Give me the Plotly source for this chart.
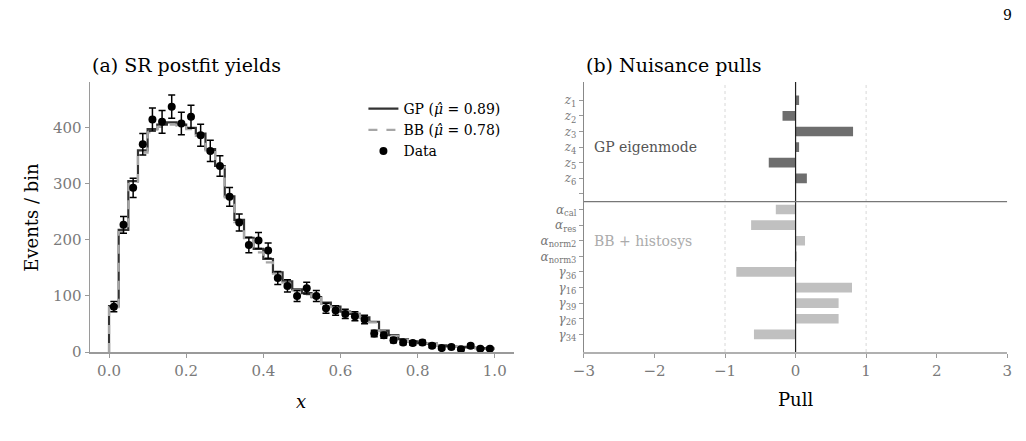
import numpy as np
import plotly.graph_objects as go

# ---------------- data ----------------
n_bins = 40
data_counts = [81, 227, 293, 371, 415, 411, 438, 408, 420, 387,
               359, 332, 277, 231, 191, 199, 181, 132, 118, 100,
               114, 100, 78, 74, 68, 64, 58, 33, 30, 21,
               17, 16, 17, 11, 7, 9, 5, 11, 6, 6]
gp_yields = [82, 218, 305, 360, 398, 406, 410, 406, 400, 390,
             362, 332, 278, 236, 204, 184, 166, 142, 126, 112,
             105, 98, 88, 81, 72, 68, 62, 54, 38, 30,
             23, 19, 16, 15, 12, 10, 9, 8, 7, 6]
bb_yields = [80, 214, 300, 356, 392, 402, 406, 404, 398, 386,
             360, 330, 276, 232, 200, 178, 160, 140, 124, 110,
             103, 96, 86, 80, 71, 67, 61, 53, 37, 29,
             22, 18, 16, 14, 12, 10, 9, 8, 7, 6]
gp_label = "GP (<i>μ̂</i> = 0.89)"
bb_label = "BB (<i>μ̂</i> = 0.78)"

pull_labels = ["<i>z</i><sub>1</sub>", "<i>z</i><sub>2</sub>", "<i>z</i><sub>3</sub>",
               "<i>z</i><sub>4</sub>", "<i>z</i><sub>5</sub>", "<i>z</i><sub>6</sub>",
               "",
               "<i>α</i><sub>cal</sub>", "<i>α</i><sub>res</sub>", "<i>α</i><sub>norm2</sub>",
               "<i>α</i><sub>norm3</sub>", "<i>γ</i><sub>36</sub>", "<i>γ</i><sub>16</sub>",
               "<i>γ</i><sub>39</sub>", "<i>γ</i><sub>26</sub>", "<i>γ</i><sub>34</sub>"]
gp_pulls = [0.05, -0.185, 0.815, 0.05, -0.38, 0.16]
bb_pulls = [-0.28, -0.63, 0.134, 0.015, -0.84, 0.80, 0.61, 0.61, -0.59]
x_ticks_left = [0.0, 0.2, 0.4, 0.6, 0.8, 1.0]
y_ticks_left = [0, 100, 200, 300, 400]
x_ticks_right = [-3, -2, -1, 0, 1, 2, 3]
x_ticktext_right = ["−3", "−2", "−1", "0", "1", "2", "3"]

# ---------------- derived ----------------
edges = np.linspace(0, 1, n_bins + 1)
centers = 0.5 * (edges[:-1] + edges[1:])
errs = np.sqrt(np.array(data_counts, dtype=float))

W, H = 1026, 441
SERIF = "DejaVu Serif"
TICKC = "#7a7a7a"
SPINE = "#9a9a9a"

fig = go.Figure()

step_x = [0.0] + list(edges)
fig.add_trace(go.Scatter(x=step_x, y=[0] + gp_yields + [gp_yields[-1]], mode="lines",
                         line=dict(shape="hv", color="#333333", width=2.2),
                         name=gp_label, xaxis="x", yaxis="y"))
fig.add_trace(go.Scatter(x=step_x, y=[0] + bb_yields + [bb_yields[-1]], mode="lines",
                         line=dict(shape="hv", color="#a6a6a6", width=2.2, dash="dash"),
                         name=bb_label, xaxis="x", yaxis="y"))
fig.add_trace(go.Scatter(x=centers, y=data_counts, mode="markers",
                         marker=dict(color="black", size=8),
                         error_y=dict(type="data", array=errs, color="black", thickness=1.5, width=3.5),
                         name="Data", xaxis="x", yaxis="y"))

gp_idx = list(range(6))
bb_idx = list(range(7, 16))
fig.add_trace(go.Bar(x=gp_pulls, y=gp_idx, orientation="h", width=0.62,
                     marker=dict(color="#6e6e6e", line=dict(width=0)),
                     showlegend=False, xaxis="x2", yaxis="y2"))
fig.add_trace(go.Bar(x=bb_pulls, y=bb_idx, orientation="h", width=0.62,
                     marker=dict(color="#c0c0c0", line=dict(width=0)),
                     showlegend=False, xaxis="x2", yaxis="y2"))

l1, r1 = 80 / W, 511 / W
l2, r2 = 582 / W, 1012 / W
top, bot = 82, 352

fig.update_layout(
    width=W, height=H,
    margin=dict(l=0, r=0, t=top, b=H - bot),
    paper_bgcolor="white", plot_bgcolor="white",
    font=dict(family=SERIF, color="black"),
    barmode="overlay",
    xaxis=dict(domain=[l1, r1], range=[-0.05, 1.05], tickvals=x_ticks_left,
               ticktext=[f"{v:.1f}" for v in x_ticks_left],
               showgrid=False, zeroline=False, showline=True, linecolor=SPINE, linewidth=1.5,
               ticks="outside", ticklen=4, tickcolor=SPINE, tickfont=dict(size=15, color=TICKC),
               anchor="y"),
    yaxis=dict(domain=[0, 1], range=[0, 482], tickvals=y_ticks_left,
               showgrid=False, zeroline=False, showline=True, linecolor=SPINE, linewidth=1.2,
               ticks="outside", ticklen=4, tickcolor=SPINE, tickfont=dict(size=15, color=TICKC),
               anchor="x"),
    xaxis2=dict(domain=[l2, r2], range=[-3, 3], tickvals=x_ticks_right, ticktext=x_ticktext_right,
                showgrid=False, zeroline=False, showline=True, linecolor="#b0b0b0", linewidth=2,
                ticks="outside", ticklen=4, tickcolor=SPINE, tickfont=dict(size=15, color=TICKC),
                anchor="y2"),
    yaxis2=dict(domain=[0, 1], range=[16.13, -1.17], tickvals=list(range(16)), ticktext=pull_labels,
                showgrid=False, zeroline=False, showline=True, linecolor="#888888", linewidth=1.2,
                ticks="outside", ticklen=4, tickcolor=SPINE, tickfont=dict(size=12, color="#777777"),
                anchor="x2"),
    legend=dict(x=358 / W, y=(bot - 93) / (bot - top), xanchor="left", yanchor="top",
                bgcolor="rgba(0,0,0,0)", font=dict(size=14, family=SERIF), itemwidth=30,
                tracegroupgap=0),
    showlegend=True,
)

shapes = [
    dict(type="line", xref="x2", yref="paper", x0=-1, x1=-1, y0=0, y1=1,
         line=dict(color="#d8d8d8", width=1, dash="dot")),
    dict(type="line", xref="x2", yref="paper", x0=1, x1=1, y0=0, y1=1,
         line=dict(color="#d8d8d8", width=1, dash="dot")),
    dict(type="line", xref="x2", yref="paper", x0=0, x1=0, y0=0, y1=1,
         line=dict(color="#222222", width=1.2)),
    dict(type="line", xref="x2", yref="y2", x0=-3, x1=3, y0=6.5, y1=6.5,
         line=dict(color="#777777", width=1.2)),
]
fig.update_layout(shapes=shapes)

ph = bot - top
def py(ypix):
    return (bot - ypix) / ph

annotations = [
    dict(text="(a) SR postfit yields", x=80 / W, y=py(65), xref="paper", yref="paper",
         xanchor="left", yanchor="middle", showarrow=False, font=dict(size=19, color="black")),
    dict(text="(b) Nuisance pulls", x=582 / W, y=py(65), xref="paper", yref="paper",
         xanchor="left", yanchor="middle", showarrow=False, font=dict(size=19, color="black")),
    dict(text="9", x=1012 / W, y=py(15), xref="paper", yref="paper",
         xanchor="center", yanchor="middle", showarrow=False, font=dict(size=14, color="black")),
    dict(text="Events / bin", x=20 / W, y=py(217), xref="paper", yref="paper", textangle=-90,
         xanchor="center", yanchor="middle", showarrow=False, font=dict(size=18, color="black")),
    dict(text="<i>x</i>", x=295 / W, y=py(401), xref="paper", yref="paper",
         xanchor="center", yanchor="middle", showarrow=False, font=dict(size=18, color="black")),
    dict(text="Pull", x=797 / W, y=py(399), xref="paper", yref="paper",
         xanchor="center", yanchor="middle", showarrow=False, font=dict(size=18, color="black")),
    dict(text="GP eigenmode", x=-2.88, y=3, xref="x2", yref="y2",
         xanchor="left", yanchor="middle", showarrow=False, font=dict(size=14, color="#555555")),
    dict(text="BB + histosys", x=-2.88, y=9, xref="x2", yref="y2",
         xanchor="left", yanchor="middle", showarrow=False, font=dict(size=14, color="#ababab")),
]
fig.update_layout(annotations=annotations)

fig.write_html("out.html")
